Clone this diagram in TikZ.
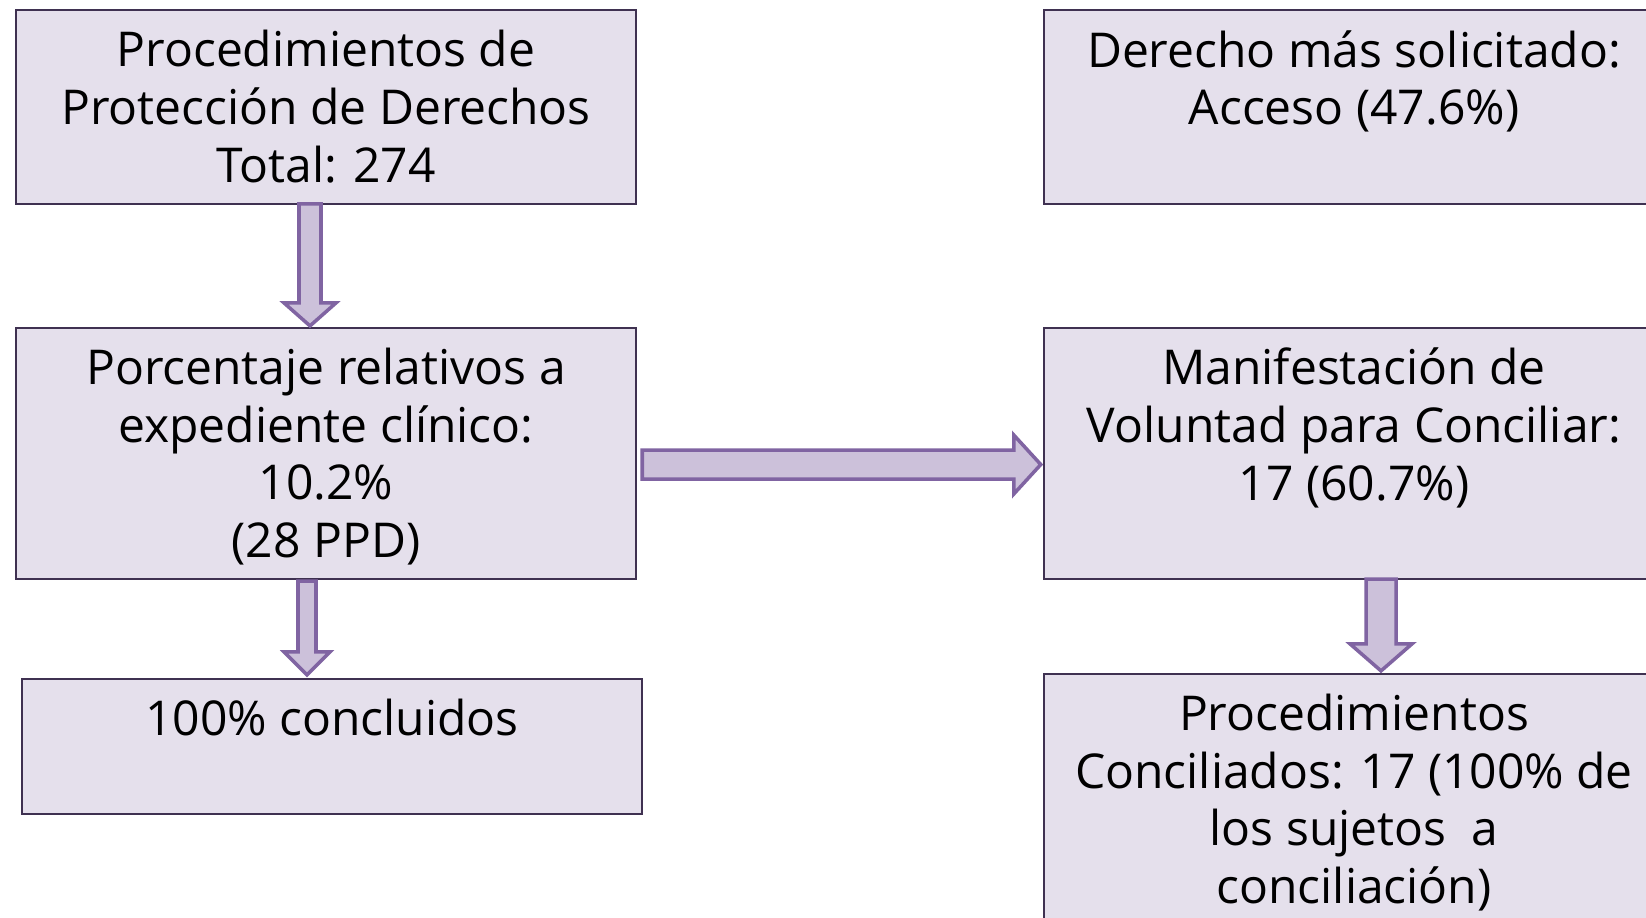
\documentclass[tikz,border=0pt]{standalone}
\usepackage{fontspec}
\setmainfont{Open Sans}
\definecolor{boxfill}{RGB}{229,224,236}
\definecolor{boxline}{RGB}{63,49,81}
\definecolor{arrowfill}{RGB}{204,193,218}
\definecolor{arrowline}{RGB}{128,100,162}
\usepackage{tikz}
\usetikzlibrary{calc, positioning}

\begin{document}
\begin{tikzpicture}[x=0.01cm, y=-0.01cm,
  caja/.style={draw=boxline, fill=boxfill, line width=0.6pt, minimum width=6.2cm, inner sep=0pt},
  texto/.style={anchor=north, align=center, inner sep=0pt, font=\fontsize{13.65}{16.4}\selectfont},
  flecha/.style={draw=arrowline, fill=arrowfill, line width=1pt, line join=miter}]

  \useasboundingbox (0,0) rectangle (1646,917);
  \fill[white] (0,0) rectangle (1646,917);
  \clip (0,0) rectangle (1646,917);

  % Left column
  \node[caja, minimum height=1.935cm] (procs) at (326,107) {};
  \node[texto, below=2.05mm of procs.north] (procs-txt) {Procedimientos de\\Protección de Derechos\\Total: 274};

  \node[caja, minimum height=2.51cm] (porcent) at (326,453.5) {};
  \node[texto, below=2.05mm of porcent.north] (porcent-txt) {Porcentaje relativos a\\expediente clínico:\\10.2\%\\(28 PPD)};

  \node[caja, minimum height=1.35cm] (concluidos) at (332,746.5) {};
  \node[texto, below=2.05mm of concluidos.north] (concluidos-txt) {100\% concluidos};

  % Right column
  \node[caja, minimum height=1.935cm] (derecho) at (1354,107) {};
  \node[texto, below=2.05mm of derecho.north] (derecho-txt) {Derecho más solicitado:\\Acceso (47.6\%)};

  \node[caja, minimum height=2.51cm] (voluntad) at (1354,453.5) {};
  \node[texto, below=2.05mm of voluntad.north] (voluntad-txt) {Manifestación de\\Voluntad para Conciliar:\\17 (60.7\%)};

  \node[caja, minimum height=3cm] (conciliados) at (1354,824) {};
  \node[texto, below=2.05mm of conciliados.north] (conciliados-txt) {Procedimientos\\Conciliados: 17 (100\% de\\los sujetos \ a\\conciliación)};

  % Block arrows
  \draw[flecha] ($(procs.south)+(-27,-1)$) -- ($(procs.south)+(-5,-1)$) -- ($(porcent.north)+(-5,-24)$)
    -- ($(porcent.north)+(10,-24)$) -- ($(porcent.north)+(-16,-1)$) -- ($(porcent.north)+(-42,-24)$)
    -- ($(porcent.north)+(-27,-24)$) -- cycle;

  \draw[flecha] ($(porcent.south)+(-28,1)$) -- ($(porcent.south)+(-10,1)$) -- ($(concluidos.north)+(-16,-26)$)
    -- ($(concluidos.north)+(-2,-26)$) -- ($(concluidos.north)+(-25,-3)$) -- ($(concluidos.north)+(-48,-26)$)
    -- ($(concluidos.north)+(-34,-26)$) -- cycle;

  \draw[flecha] ($(porcent.east)+(5,-3.5)$) -- ($(voluntad.west)+(-29,-3.5)$) -- ($(voluntad.west)+(-29,-18.5)$)
    -- ($(voluntad.west)+(-2,11)$) -- ($(voluntad.west)+(-29,40.5)$) -- ($(voluntad.west)+(-29,25.5)$)
    -- ($(porcent.east)+(5,25.5)$) -- cycle;

  \draw[flecha] ($(voluntad.south)+(12,-1)$) -- ($(voluntad.south)+(42,-1)$) -- ($(conciliados.north)+(42,-29)$)
    -- ($(conciliados.north)+(58,-29)$) -- ($(conciliados.north)+(27,-2)$) -- ($(conciliados.north)+(-4,-29)$)
    -- ($(conciliados.north)+(12,-29)$) -- cycle;
\end{tikzpicture}
\end{document}
